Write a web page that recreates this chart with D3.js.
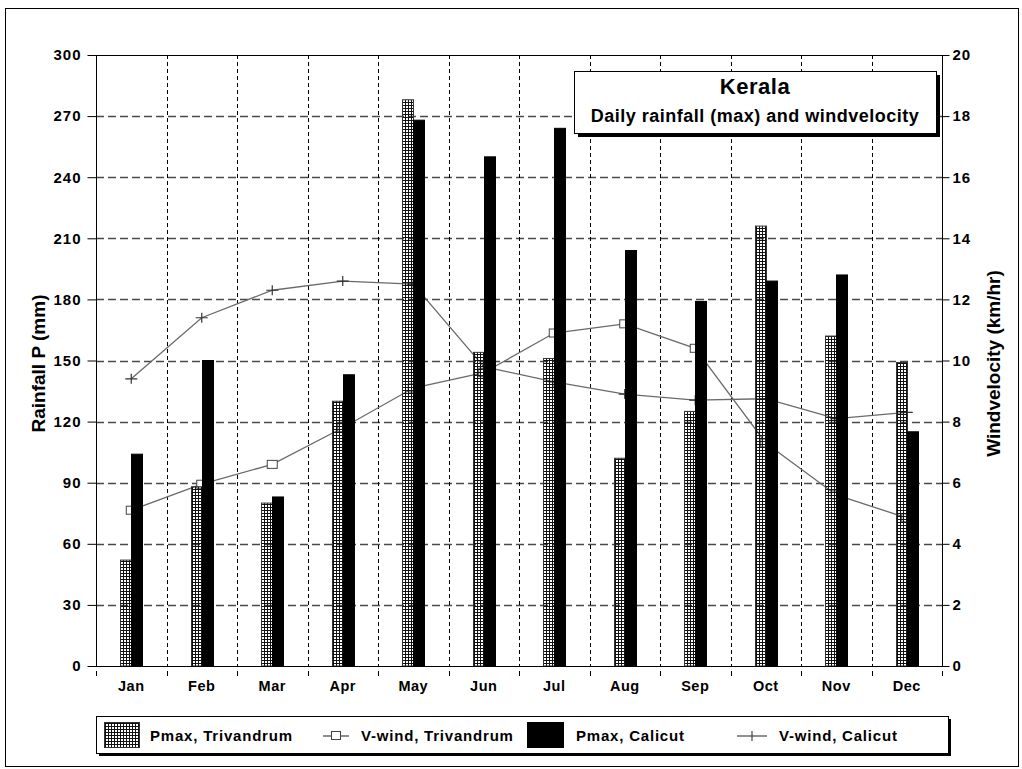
<!DOCTYPE html>
<html>
<head>
<meta charset="utf-8">
<script src="https://cdn.jsdelivr.net/npm/d3@7"></script>
<style>
  body { margin: 0; background: #fff; }
  svg { display: block; font-family: "Liberation Sans", Arial, sans-serif; }
</style>
</head>
<body>
<div id="chart"></div>
<script>
// chart data
var months = ["Jan", "Feb", "Mar", "Apr", "May", "Jun", "Jul", "Aug", "Sep", "Oct", "Nov", "Dec"];
var pmaxTrivandrum = [52, 88, 80, 130, 278, 154, 151, 102, 125, 216, 162, 149];
var pmaxCalicut = [104, 150, 83, 143, 268, 250, 264, 204, 179, 189, 192, 115];
var windTrivandrum = [5.1, 5.95, 6.6, 7.8, 9.1, 9.6, 10.9, 11.2, 10.4, 7.3, 5.6, 4.85];
var windCalicut = [9.4, 11.4, 12.3, 12.6, 12.5, 9.8, 9.3, 8.9, 8.7, 8.75, 8.1, 8.3];
var rainTicks = [0, 30, 60, 90, 120, 150, 180, 210, 240, 270, 300];
var windTicks = [0, 2, 4, 6, 8, 10, 12, 14, 16, 18, 20];

var width = 1022, height = 769,
margin = {"top": 55, "right": 80, "bottom": 103, "left": 96};
var plotR = width - margin.right, plotB = height - margin.bottom;

var svg = d3.select("#chart").append("svg")
.attr("width", width)
.attr("height", height);

// hatched fill for the Trivandrum bars
var defs = svg.append("defs");
defs.append("pattern")
.attr("id", "hatch")
.attr("patternUnits", "userSpaceOnUse")
.attr("width", 3).attr("height", 3)
.append("path")
.attr("d", "M0,0.5H3M0.5,0V3")
.attr("stroke", "#111")
.attr("stroke-width", 1)
.attr("shape-rendering", "crispEdges");

// outer frame
svg.append("rect")
.attr("x", 5.5).attr("y", 8.5)
.attr("width", 1013).attr("height", 758)
.attr("fill", "none").attr("stroke", "#000");

var x = d3.scaleBand()
.domain(months)
.range([margin.left, plotR]);

var yL = d3.scaleLinear().domain([0, 300]).range([plotB, margin.top]);
var yR = d3.scaleLinear().domain([0, 20]).range([plotB, margin.top]);

var bw = 11;
var cx = d => x(d) + x.bandwidth() / 2;

// grid lines
svg.append("g")
.selectAll("line")
.data(rainTicks.filter(t => t > 0 && t < 300))
.enter().append("line")
.attr("x1", margin.left).attr("x2", plotR)
.attr("y1", d => Math.round(yL(d)) + 0.5).attr("y2", d => Math.round(yL(d)) + 0.5)
.attr("stroke", "#4a4a4a").attr("stroke-width", 1.6)
.attr("stroke-dasharray", "8,4");

svg.append("g")
.selectAll("line")
.data(months.slice(1))
.enter().append("line")
.attr("x1", d => Math.round(x(d)) + 0.5).attr("x2", d => Math.round(x(d)) + 0.5)
.attr("y1", margin.top).attr("y2", plotB)
.attr("stroke", "#000").attr("stroke-width", 1)
.attr("stroke-dasharray", "4,3");

// wind lines + markers (drawn under the bars)
var line = d3.line()
.x((d, i) => cx(months[i]))
.y(d => yR(d));

svg.append("path")
.datum(windTrivandrum)
.attr("d", line)
.attr("fill", "none").attr("stroke", "#6a6a6a").attr("stroke-width", 1.3);

svg.append("path")
.datum(windCalicut)
.attr("d", line)
.attr("fill", "none").attr("stroke", "#6a6a6a").attr("stroke-width", 1.3);

svg.append("g")
.selectAll("rect")
.data(windTrivandrum)
.enter().append("rect")
.attr("x", (d, i) => cx(months[i]) - 5)
.attr("y", d => yR(d) - 4)
.attr("width", 10).attr("height", 8)
.attr("fill", "#fff").attr("stroke", "#444").attr("stroke-width", 1);

svg.append("g")
.selectAll("path")
.data(windCalicut)
.enter().append("path")
.attr("d", (d, i) => {
	var px = cx(months[i]), py = yR(d);
	return "M" + (px - 6) + "," + py + "H" + (px + 6) + "M" + px + "," + (py - 5) + "V" + (py + 5);
})
.attr("stroke", "#333").attr("stroke-width", 1.2).attr("fill", "none");

// bars
svg.append("g")
.selectAll("rect")
.data(pmaxTrivandrum)
.enter().append("rect")
.attr("x", (d, i) => Math.round(cx(months[i])) - bw + 0.5)
.attr("y", d => yL(d))
.attr("width", bw)
.attr("height", d => plotB - yL(d))
.attr("fill", "url(#hatch)").attr("stroke", "#333").attr("stroke-width", 1);

svg.append("g")
.selectAll("rect")
.data(pmaxCalicut)
.enter().append("rect")
.attr("x", (d, i) => Math.round(cx(months[i])) + 0.5)
.attr("y", d => yL(d))
.attr("width", bw)
.attr("height", d => plotB - yL(d))
.attr("fill", "#000").attr("stroke", "#000").attr("stroke-width", 1);

// plot frame
svg.append("rect")
.attr("x", margin.left + 0.5).attr("y", margin.top + 0.5)
.attr("width", plotR - margin.left).attr("height", plotB - margin.top)
.attr("fill", "none").attr("stroke", "#000").attr("stroke-width", 1);

// left axis
var yAxisL = g => g
.attr("transform", `translate(${margin.left + 0.5},0)`)
.call(d3.axisLeft(yL).tickValues(rainTicks).tickSize(9).tickPadding(6))
.call(g => g.select(".domain").remove())
.call(g => g.selectAll("text")
	.attr("font-size", 15).attr("font-weight", "bold").attr("letter-spacing", 1)
	.attr("font-family", "Liberation Sans, Arial, sans-serif"));
svg.append("g").call(yAxisL);

// right axis
var yAxisR = g => g
.attr("transform", `translate(${plotR + 0.5},0)`)
.call(d3.axisRight(yR).tickValues(windTicks).tickSize(7).tickPadding(3))
.call(g => g.select(".domain").remove())
.call(g => g.selectAll("text")
	.attr("font-size", 15).attr("font-weight", "bold").attr("letter-spacing", 1)
	.attr("font-family", "Liberation Sans, Arial, sans-serif"));
svg.append("g").call(yAxisR);

// month ticks below the axis
svg.append("g")
.selectAll("line")
.data(months.concat(["end"]))
.enter().append("line")
.attr("x1", (d, i) => Math.round(margin.left + i * x.bandwidth()) + 0.5)
.attr("x2", (d, i) => Math.round(margin.left + i * x.bandwidth()) + 0.5)
.attr("y1", plotB + 5).attr("y2", plotB + 10)
.attr("stroke", "#000");

svg.append("g")
.selectAll("text")
.data(months)
.enter().append("text")
.attr("x", d => cx(d))
.attr("y", plotB + 25)
.attr("text-anchor", "middle")
.attr("font-size", 14.5).attr("font-weight", "bold").attr("letter-spacing", 0.5)
.text(d => d);

// axis titles
svg.append("text")
.attr("transform", `translate(45,${(margin.top + plotB) / 2 + 3}) rotate(-90)`)
.attr("text-anchor", "middle")
.attr("font-size", 19).attr("font-weight", "bold")
.text("Rainfall P (mm)");

svg.append("text")
.attr("transform", `translate(1000,${(margin.top + plotB) / 2 + 3}) rotate(-90)`)
.attr("text-anchor", "middle")
.attr("font-size", 19).attr("font-weight", "bold")
.text("Windvelocity (km/hr)");

// title box
var tb = {x: 574, y: 71, w: 362, h: 62};
svg.append("rect")
.attr("x", tb.x + 4).attr("y", tb.y + 4).attr("width", tb.w).attr("height", tb.h)
.attr("fill", "#000");
svg.append("rect")
.attr("x", tb.x + 0.5).attr("y", tb.y + 0.5).attr("width", tb.w).attr("height", tb.h)
.attr("fill", "#fff").attr("stroke", "#000");
svg.append("text")
.attr("x", tb.x + tb.w / 2).attr("y", tb.y + 23)
.attr("text-anchor", "middle")
.attr("font-size", 22).attr("font-weight", "bold").attr("letter-spacing", 0.5)
.text("Kerala");
svg.append("text")
.attr("x", tb.x + tb.w / 2).attr("y", tb.y + 51)
.attr("text-anchor", "middle")
.attr("font-size", 18).attr("font-weight", "bold").attr("letter-spacing", 0.5)
.text("Daily rainfall (max) and windvelocity");

// legend
var lg = {x: 96, y: 716, w: 852, h: 37};
svg.append("rect")
.attr("x", lg.x + 3).attr("y", lg.y + 3).attr("width", lg.w).attr("height", lg.h)
.attr("fill", "#000");
svg.append("rect")
.attr("x", lg.x + 0.5).attr("y", lg.y + 0.5).attr("width", lg.w).attr("height", lg.h)
.attr("fill", "#fff").attr("stroke", "#000");

var ly = lg.y + 20;
svg.append("rect")
.attr("x", 104.5).attr("y", lg.y + 6.5).attr("width", 35).attr("height", 25)
.attr("fill", "url(#hatch)").attr("stroke", "#333");
svg.append("rect")
.attr("x", 527.5).attr("y", lg.y + 6.5).attr("width", 36).attr("height", 25)
.attr("fill", "#000").attr("stroke", "#000");

svg.append("line")
.attr("x1", 323).attr("x2", 349).attr("y1", ly).attr("y2", ly)
.attr("stroke", "#444").attr("stroke-width", 1.2);
svg.append("rect")
.attr("x", 331.5).attr("y", ly - 4.5).attr("width", 9).attr("height", 8)
.attr("fill", "#fff").attr("stroke", "#444");

svg.append("line")
.attr("x1", 737).attr("x2", 767).attr("y1", ly).attr("y2", ly)
.attr("stroke", "#444").attr("stroke-width", 1.2);
svg.append("line")
.attr("x1", 752).attr("x2", 752).attr("y1", ly - 5).attr("y2", ly + 5)
.attr("stroke", "#444").attr("stroke-width", 1.2);

var legendText = [
	{x: 150, t: "Pmax, Trivandrum"},
	{x: 361, t: "V-wind, Trivandrum"},
	{x: 576, t: "Pmax, Calicut"},
	{x: 779, t: "V-wind, Calicut"}
];
svg.append("g")
.selectAll("text")
.data(legendText)
.enter().append("text")
.attr("x", d => d.x).attr("y", ly + 5)
.attr("font-size", 15).attr("font-weight", "bold").attr("letter-spacing", 0.8)
.text(d => d.t);
</script>
</body>
</html>
